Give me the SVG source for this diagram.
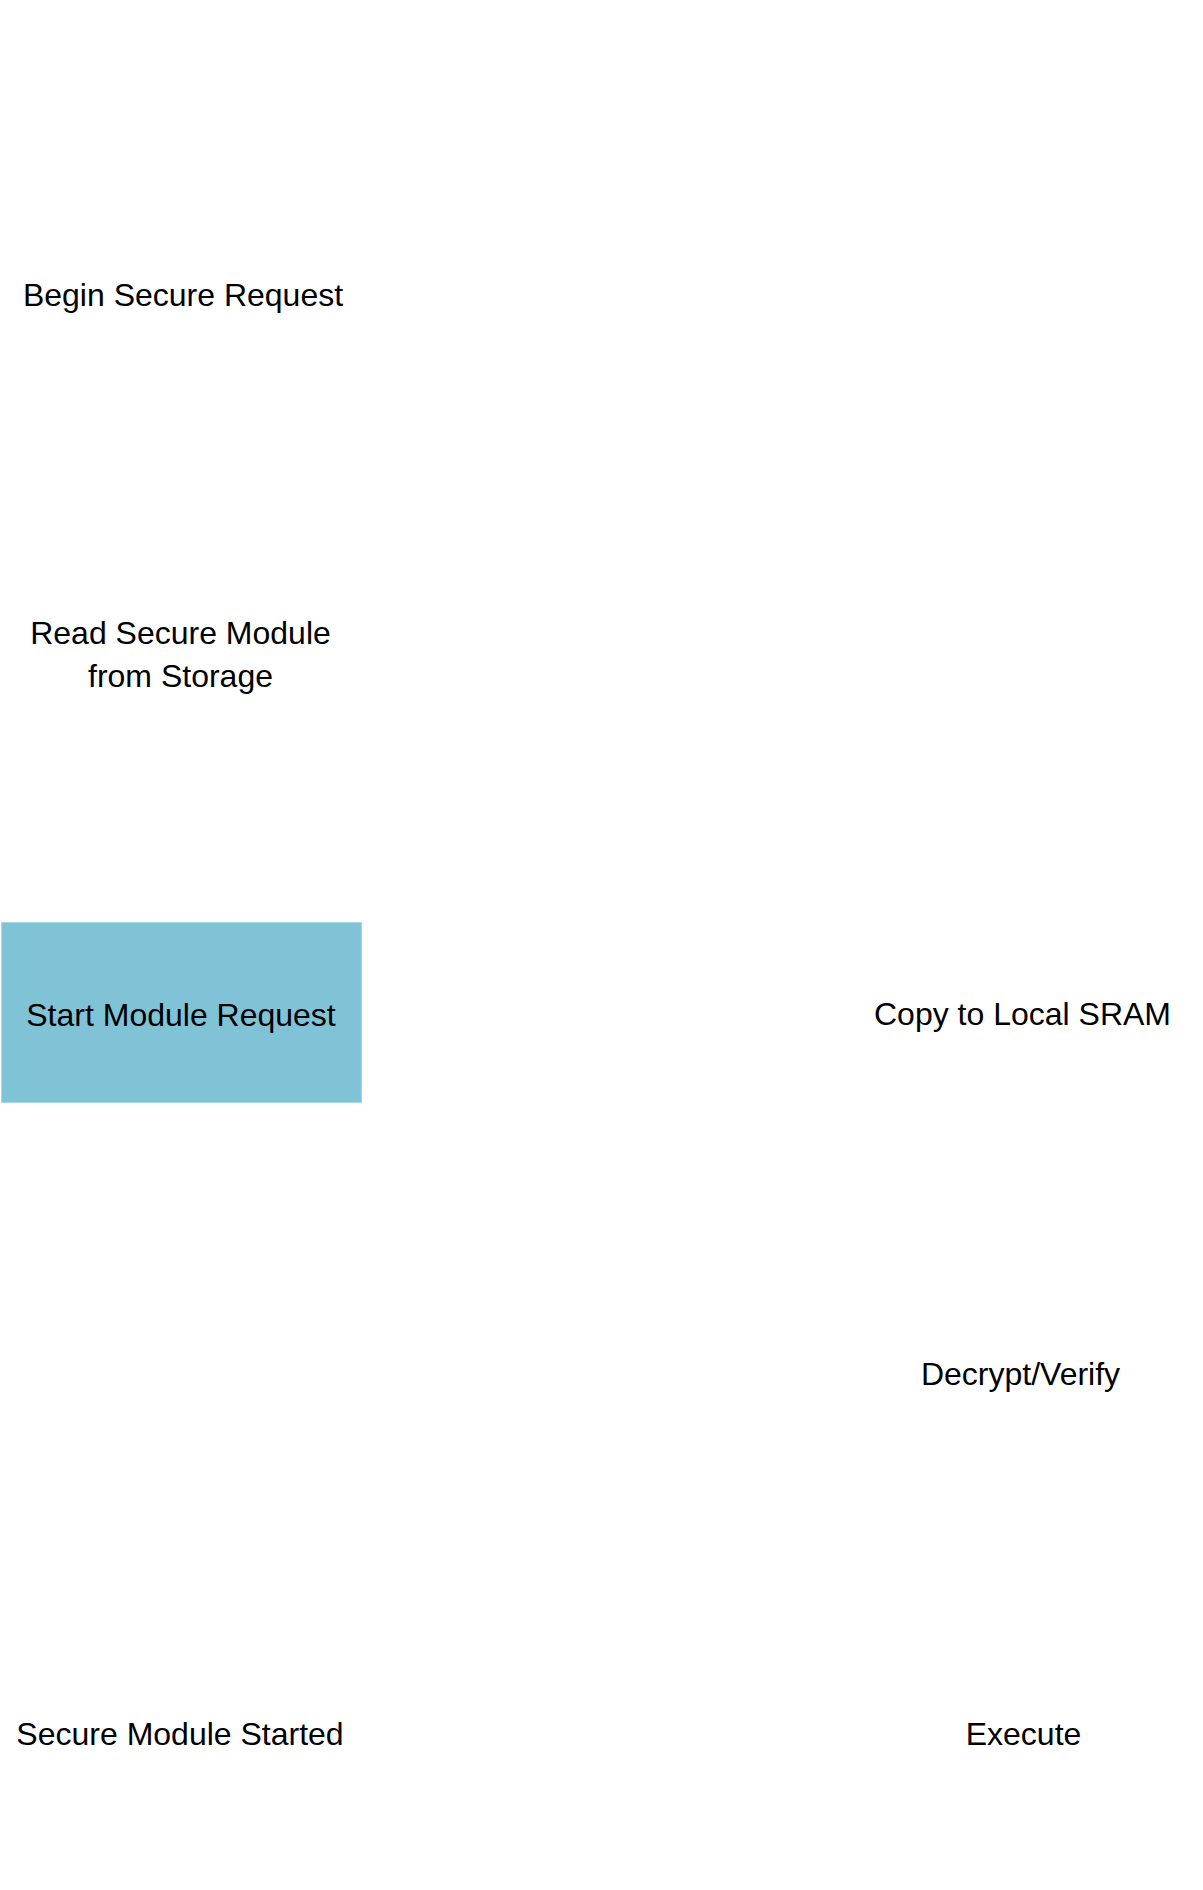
<svg xmlns="http://www.w3.org/2000/svg" width="1203" height="1890" viewBox="0 0 1203 1890">
<style>
.lbl{font-family:"Liberation Sans","Noto Sans",Arial,sans-serif;font-size:32px;fill:#000;text-anchor:middle}
.plain{fill:#fff;stroke:none}
.hl{fill:#80c3d6;stroke:#a6d8e6;stroke-width:1}
</style>
<rect width="1203" height="1890" fill="#fff"/>
<g id="connectors"></g>
<g id="n-begin"><rect class="plain" x="1" y="203" width="361" height="180"/><text class="lbl" x="183" y="306">Begin Secure Request</text></g>
<g id="n-read"><rect class="plain" x="1" y="563" width="361" height="180"/><text class="lbl" x="180.5" y="644">Read Secure Module</text><text class="lbl" x="180.5" y="687">from Storage</text></g>
<g id="n-start"><rect class="hl" x="1.5" y="922.5" width="360" height="180"/><text class="lbl" x="181" y="1026">Start Module Request</text></g>
<g id="n-copy"><rect class="plain" x="841" y="922" width="361" height="180"/><text class="lbl" x="1022.5" y="1025">Copy to Local SRAM</text></g>
<g id="n-decrypt"><rect class="plain" x="841" y="1283" width="361" height="180"/><text class="lbl" x="1020.5" y="1385">Decrypt/Verify</text></g>
<g id="n-started"><rect class="plain" x="1" y="1643" width="361" height="180"/><text class="lbl" x="180" y="1745">Secure Module Started</text></g>
<g id="n-execute"><rect class="plain" x="841" y="1643" width="361" height="180"/><text class="lbl" x="1023.5" y="1745">Execute</text></g>
</svg>
